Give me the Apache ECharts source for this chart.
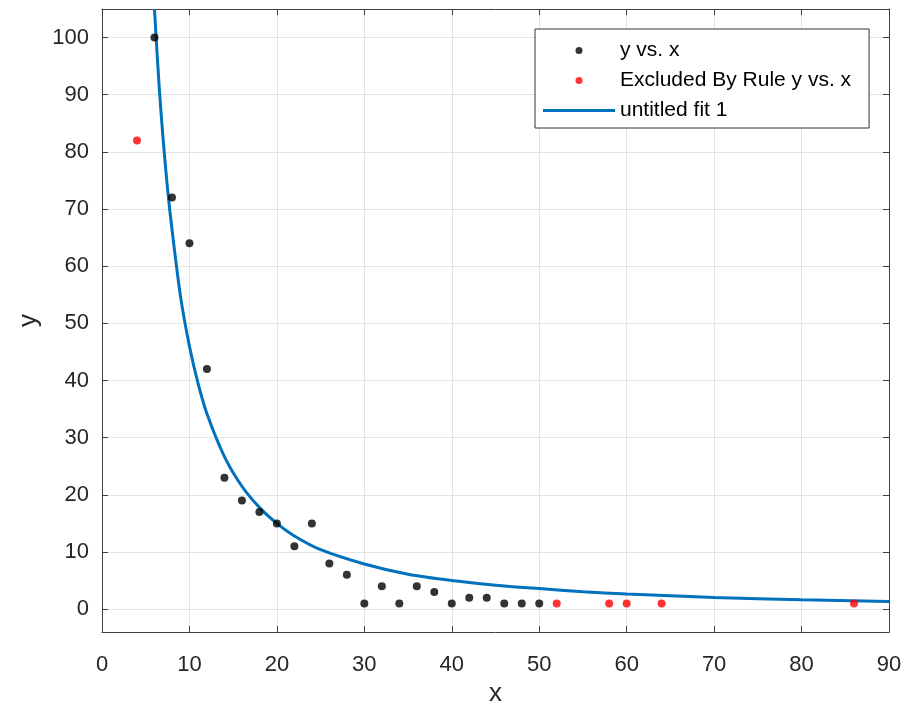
<!DOCTYPE html>
<html><head><meta charset="utf-8">
<script src="https://cdn.jsdelivr.net/npm/echarts@6/dist/echarts.min.js"></script>
<style>html,body{margin:0;padding:0;background:#fff}#c{width:911px;height:705px}</style>
</head><body><div id="c"></div>
<script>
// Data
const includedX = [6, 8, 10, 12, 14, 16, 18, 20, 22, 24, 26, 28, 30, 32, 34, 36, 38, 40, 42, 44, 46, 48, 50];
const includedY = [100, 72, 64, 42, 23, 19, 17, 15, 11, 15, 8, 6, 1, 4, 1, 4, 3, 1, 2, 2, 1, 1, 1];
const excludedX = [4, 52, 58, 60, 64, 86];
const excludedY = [82, 1, 1, 1, 1, 1];
const fitX = [6, 6.5, 7, 7.5, 8, 9, 10, 11, 12, 14, 16, 18, 20, 22, 25, 30, 35, 40, 45, 50, 55, 60, 70, 80, 90];
const fitY = [105, 92.3, 82, 73.5, 66.5, 54.5, 46, 39.4, 34.2, 26.7, 21.5, 17.8, 15.0, 12.8, 10.4, 7.9, 6.1, 5.0, 4.2, 3.6, 3.05, 2.65, 2.05, 1.63, 1.33];
const xTicks = [0, 10, 20, 30, 40, 50, 60, 70, 80, 90];
const yTicks = [0, 10, 20, 30, 40, 50, 60, 70, 80, 90, 100];

const pairs = (xs, ys) => xs.map((x, i) => [x, ys[i]]);
const axisColor = '#404040';
const font = 'Liberation Sans, Arial, sans-serif';

const chart = echarts.init(document.getElementById('c'), null, {renderer: 'canvas'});
chart.setOption({
  animation: false,
  backgroundColor: '#fff',
  grid: {left: 102, right: 22, top: 9, bottom: 73, containLabel: false, outerBoundsMode: 'none'},
  legend: {
    orient: 'vertical', left: 535, top: 29,
    padding: [11, 18, 7, 8], itemGap: 9,
    itemWidth: 72, itemHeight: 7,
    backgroundColor: '#fff', borderColor: '#333', borderWidth: 1, borderRadius: 0,
    textStyle: {fontFamily: font, fontSize: 21, lineHeight: 20, color: '#000'},
    data: [
      {name: 'y vs. x', icon: 'circle'},
      {name: 'Excluded By Rule y vs. x', icon: 'circle'},
      {name: 'untitled fit 1', icon: 'path://M0,0H72V3H0Z'}
    ]
  },
  xAxis: [{
    type: 'value', min: 0, max: 90, interval: 10,
    name: 'x', nameLocation: 'middle', nameGap: 47,
    nameTextStyle: {fontFamily: font, fontSize: 26, color: '#262626'},
    axisLine: {onZero: false, lineStyle: {color: axisColor}},
    axisTick: {inside: true, length: 6, lineStyle: {color: axisColor}},
    axisLabel: {fontFamily: font, fontSize: 22, color: '#262626', margin: 22, customValues: xTicks},
    splitLine: {show: true, lineStyle: {color: '#e3e3e3'}}
  }, {
    type: 'value', min: 0, max: 90, interval: 10, position: 'top',
    axisLine: {show: true, onZero: false, lineStyle: {color: axisColor}},
    axisTick: {show: true, inside: true, length: 6, lineStyle: {color: axisColor}},
    axisLabel: {show: false}, splitLine: {show: false}
  }],
  yAxis: [{
    type: 'value', min: -4, max: 105,
    name: 'y', nameLocation: 'middle', nameGap: 60,
    nameTextStyle: {fontFamily: font, fontSize: 26, color: '#262626'},
    axisLine: {show: true, onZero: false, lineStyle: {color: axisColor}},
    axisTick: {show: true, inside: true, length: 6, lineStyle: {color: axisColor}, customValues: yTicks},
    axisLabel: {fontFamily: font, fontSize: 22, color: '#262626', margin: 13, customValues: yTicks},
    splitLine: {show: true, lineStyle: {color: '#e3e3e3'}}
  }, {
    type: 'value', min: -4, max: 105, position: 'right',
    axisLine: {show: true, onZero: false, lineStyle: {color: axisColor}},
    axisTick: {show: true, inside: true, length: 6, lineStyle: {color: axisColor}, customValues: yTicks},
    axisLabel: {show: false, customValues: yTicks}, splitLine: {show: false}
  }],
  series: [{
    name: 'y vs. x', type: 'scatter', data: pairs(includedX, includedY),
    symbol: 'circle', symbolSize: 8, itemStyle: {color: '#000'}, z: 3
  }, {
    name: 'Excluded By Rule y vs. x', type: 'scatter', data: pairs(excludedX, excludedY),
    symbol: 'circle', symbolSize: 8, itemStyle: {color: '#ff0000'}, z: 3
  }, {
    name: 'untitled fit 1', type: 'line', data: pairs(fitX, fitY),
    smooth: 0.3, showSymbol: false, symbol: 'none',
    lineStyle: {color: '#0072BD', width: 3}, itemStyle: {color: '#0072BD'}, z: 2
  }]
});
</script></body></html>
